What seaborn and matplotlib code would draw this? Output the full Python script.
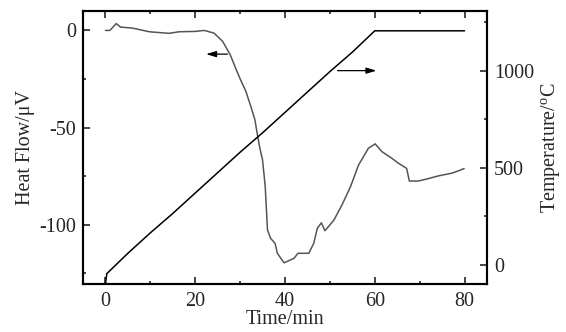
import numpy as np
import pandas as pd
import matplotlib
matplotlib.use("Agg")
import matplotlib.pyplot as plt
import seaborn as sns
from matplotlib.ticker import MultipleLocator

# heat flow (left axis)
hf_time = [0, 1.0, 2.4, 3.4, 6.0, 9.8, 14.2, 16.4, 20.1, 22.0, 24.2, 26.1, 27.8,
           29.0, 30.1, 31.3, 32.4, 33.3, 33.8, 34.4, 35.0, 35.6, 36.1, 36.8, 37.8,
           38.3, 39.8, 42.0, 42.9, 45.3, 46.4, 47.2, 48.1, 48.9, 50.9, 52.7, 54.6,
           56.4, 58.6, 60.1, 61.6, 63.8, 65.3, 67.1, 67.7, 69.7, 71.9, 74.1, 77.1,
           78.6, 79.9]
hf_value = [0, 0, 3.5, 1.7, 1.2, -0.7, -1.5, -0.7, -0.5, 0, -1.4, -5.6, -12.5,
            -19.4, -25.4, -31.4, -39.2, -46.0, -52.9, -60.6, -66.6, -80.4, -102.7, -107.0, -109.6,
            -114.7, -119.6, -117.3, -114.7, -114.7, -109.6, -101.9, -99.0, -103.1, -97.6, -89.8, -80.4,
            -69.2, -60.6, -58.4, -62.4, -65.8, -68.4, -71.0, -77.5, -77.5, -76.3, -74.9, -73.5,
            -72.3, -71.1]

# temperature (right axis)
t_time = [0, 0.3, 5, 10, 15, 20, 25, 30, 35, 40, 45, 50, 55, 60, 80]
t_value = [-100, -45, 60, 165, 265, 370, 475, 580, 680, 785, 890, 995, 1095, 1205, 1205]

hf = pd.DataFrame({"time": hf_time, "hf": hf_value})
temp = pd.DataFrame({"time": t_time, "temp": t_value})

sns.set_theme(style="ticks")
plt.rcParams["font.family"] = ["Liberation Serif", "DejaVu Serif"]
plt.rcParams["mathtext.fontset"] = "custom"
plt.rcParams["mathtext.rm"] = "Liberation Serif"
plt.rcParams["axes.unicode_minus"] = False
plt.rcParams["xtick.direction"] = "in"
plt.rcParams["ytick.direction"] = "in"

fig = plt.figure(figsize=(5.66, 3.32), dpi=100)
ax = fig.add_axes([0.1466, 0.1446, 0.7138, 0.8223])
ax2 = ax.twinx()

sns.lineplot(data=hf, x="time", y="hf", ax=ax, color="#555555", lw=1.1, sort=False)
sns.lineplot(data=temp, x="time", y="temp", ax=ax2, color="black", lw=1.1, sort=False)

ax.set_xlim(-5, 85)
ax.set_ylim(-130.5, 10)
ax2.set_ylim(-98, 1307)

ax.xaxis.set_major_locator(MultipleLocator(20))
ax.xaxis.set_minor_locator(MultipleLocator(10))
ax.yaxis.set_major_locator(MultipleLocator(50))
ax.yaxis.set_minor_locator(MultipleLocator(25))
ax2.yaxis.set_major_locator(MultipleLocator(500))
ax2.yaxis.set_minor_locator(MultipleLocator(250))

fs = 14.5
ax.tick_params(axis="x", which="both", top=True, bottom=True)
ax.tick_params(which="major", length=5, width=1.2, labelsize=fs, pad=5)
ax.tick_params(which="minor", length=2.5, width=1.2)
ax.tick_params(axis="x", pad=6)
ax2.tick_params(which="major", length=5, width=1.2, labelsize=fs, pad=5)
ax2.tick_params(which="minor", length=2.5, width=1.2)

for a in (ax, ax2):
    for s in a.spines.values():
        s.set_linewidth(1.5)
        s.set_color("black")

ax.set_xlabel("Time/min", fontsize=fs, labelpad=-1)
ax.set_ylabel("Heat Flow/\u03bcV", fontsize=fs, labelpad=3)
ax2.set_ylabel(r"Temperature/$^{\rm o}$C", fontsize=fs, labelpad=4)

arrow = dict(arrowstyle="-|>,head_length=0.5,head_width=0.15", color="black", lw=0.9)
ax.annotate("", xy=(21.8, -12.2), xytext=(27.8, -12.2), arrowprops=arrow)
ax2.annotate("", xy=(61.0, 1000), xytext=(51.1, 1000), arrowprops=arrow)

fig.savefig("out.png", dpi=100)
